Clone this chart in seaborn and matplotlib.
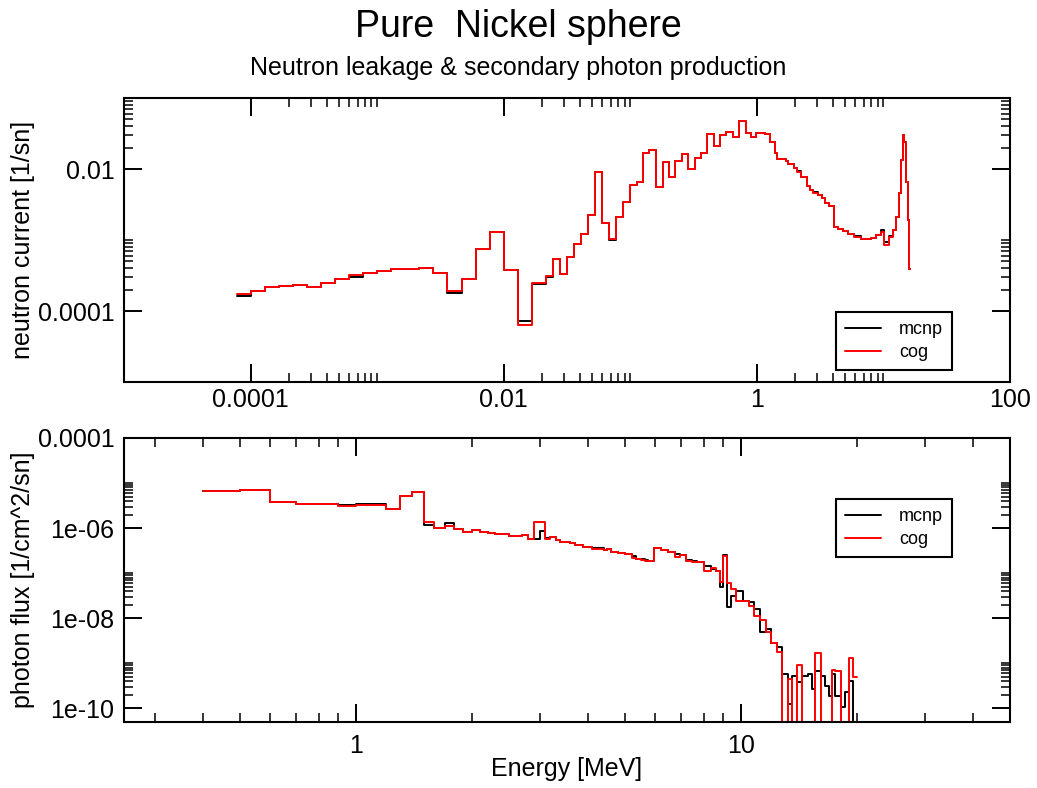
import numpy as np
import pandas as pd
import matplotlib
matplotlib.use("Agg")
import matplotlib.pyplot as plt
import matplotlib.ticker as mticker
import seaborn as sns

# ---------------------------------------------------------------------------
# Neutron leakage current, bin edges in MeV and per-bin values [1/sn]
# ---------------------------------------------------------------------------
neutron_edges = [
    7.74e-5, 1.0e-4, 1.29e-4, 1.67e-4, 2.15e-4, 2.78e-4, 3.59e-4, 4.64e-4,
    6.0e-4, 7.74e-4, 1.0e-3, 1.29e-3, 1.67e-3, 2.15e-3, 2.78e-3, 3.59e-3,
    4.64e-3, 6.0e-3, 7.74e-3, 1.0e-2, 1.29e-2, 1.67e-2, 2.15e-2,
    2.45e-2, 2.78e-2, 3.16e-2, 3.59e-2, 4.08e-2, 4.64e-2, 5.27e-2, 6.0e-2,
    6.81e-2, 7.74e-2, 8.8e-2, 0.1, 0.1136,
    0.1262, 0.1415, 0.1588, 0.1806, 0.2028, 0.2248, 0.2541, 0.2847, 0.3219,
    0.3637, 0.4058, 0.4575, 0.5073, 0.5737, 0.6477, 0.7266, 0.8151, 0.8932,
    0.978, 1.153, 1.280, 1.384, 1.436, 1.692, 1.763, 1.967, 2.093, 2.250,
    2.478, 2.618, 2.781, 3.013, 3.259, 3.443, 3.724, 4.077, 4.337, 4.752,
    5.206, 5.876, 6.637, 7.966, 8.724, 9.556, 10.09, 11.06, 11.83, 12.56,
    13.27, 13.76, 14.19, 14.62, 15.08, 15.56, 15.93, 16.30,
]

neutron_cog = [
    1.71e-4, 1.91e-4, 2.18e-4, 2.25e-4, 2.36e-4, 2.21e-4, 2.51e-4, 2.79e-4,
    3.26e-4, 3.40e-4, 3.63e-4, 3.87e-4, 3.87e-4, 4.00e-4, 3.48e-4, 1.91e-4,
    2.86e-4, 7.59e-4, 1.30e-3, 3.79e-4, 6.41e-5, 2.51e-4,
    3.11e-4, 5.41e-4, 3.36e-4, 5.71e-4, 8.81e-4, 1.22e-3, 2.26e-3, 9.07e-3,
    1.71e-3, 1.04e-3, 2.10e-3, 3.39e-3, 5.89e-3, 6.62e-3,
    1.70e-2, 1.87e-2, 5.52e-3, 1.24e-2, 7.63e-3, 1.31e-2, 1.61e-2, 9.90e-3,
    1.44e-2, 1.70e-2, 3.09e-2, 2.08e-2, 3.02e-2, 3.37e-2, 2.81e-2, 4.81e-2,
    3.26e-2, 2.81e-2, 3.19e-2, 3.09e-2, 2.43e-2, 1.67e-2, 1.38e-2, 1.31e-2,
    1.16e-2, 1.02e-2, 9.16e-3, 7.78e-3, 5.75e-3, 5.05e-3, 4.62e-3, 4.25e-3,
    3.86e-3, 3.34e-3, 3.00e-3, 1.53e-3, 1.42e-3, 1.33e-3, 1.21e-3, 1.11e-3,
    1.05e-3, 1.08e-3, 1.17e-3, 1.30e-3, 8.45e-4, 1.11e-3, 1.37e-3, 2.12e-3,
    4.54e-3, 1.34e-2, 3.02e-2, 2.43e-2, 6.62e-3, 1.91e-3, 3.95e-4,
]

neutron_mcnp = [
    1.62e-4, 1.91e-4, 2.18e-4, 2.25e-4, 2.36e-4, 2.21e-4, 2.51e-4, 2.79e-4,
    3.01e-4, 3.40e-4, 3.63e-4, 3.87e-4, 3.87e-4, 4.00e-4, 3.40e-4, 1.82e-4,
    2.86e-4, 7.59e-4, 1.30e-3, 3.79e-4, 7.20e-5, 2.43e-4,
    3.00e-4, 5.41e-4, 3.36e-4, 5.71e-4, 8.81e-4, 1.22e-3, 2.26e-3, 9.07e-3,
    1.71e-3, 1.00e-3, 2.10e-3, 3.39e-3, 5.89e-3, 6.62e-3,
    1.70e-2, 1.87e-2, 5.52e-3, 1.24e-2, 7.63e-3, 1.31e-2, 1.61e-2, 9.90e-3,
    1.44e-2, 1.70e-2, 3.09e-2, 2.08e-2, 3.02e-2, 3.37e-2, 2.81e-2, 4.81e-2,
    3.26e-2, 2.81e-2, 3.19e-2, 3.09e-2, 2.43e-2, 1.67e-2, 1.38e-2, 1.31e-2,
    1.16e-2, 1.02e-2, 9.40e-3, 7.78e-3, 5.75e-3, 5.05e-3, 4.80e-3, 4.25e-3,
    3.95e-3, 3.34e-3, 3.00e-3, 1.53e-3, 1.45e-3, 1.33e-3, 1.21e-3, 1.13e-3,
    1.05e-3, 1.08e-3, 1.17e-3, 1.38e-3, 9.50e-4, 1.15e-3, 1.37e-3, 2.12e-3,
    4.54e-3, 1.34e-2, 3.02e-2, 2.43e-2, 6.62e-3, 1.91e-3, 3.95e-4,
]

# ---------------------------------------------------------------------------
# Secondary photon flux, bin edges in MeV and per-bin values [1/cm^2/sn]
# ---------------------------------------------------------------------------
photon_edges = [
    0.4, 0.5, 0.6, 0.7, 0.9, 1.0, 1.2, 1.3, 1.4, 1.5,
    1.6, 1.7, 1.8, 1.9, 2.0, 2.1, 2.2, 2.3, 2.4, 2.5,
    2.6, 2.7, 2.8, 2.9, 3.0, 3.1, 3.2, 3.3, 3.4, 3.6,
    3.7, 3.9, 4.1, 4.4, 4.5, 4.6, 4.8, 5.0, 5.2, 5.35,
    5.5, 5.65, 5.75, 5.95, 6.2, 6.45, 6.75, 6.95, 7.2, 7.45,
    7.7, 8.0, 8.35, 8.6, 8.8, 9.0, 9.2, 9.45, 9.7, 10.1,
    10.5, 10.8, 11.2, 11.6, 12.0, 12.4, 12.8, 13.25, 13.6, 14.0,
    14.4, 14.9, 15.3, 15.6, 16.1, 16.5, 16.9, 17.2, 17.6, 18.2,
    18.6, 19.1, 19.6, 20.0,
]

photon_cog = [
    6.64e-6, 7.13e-6, 3.78e-6, 3.37e-6, 3.04e-6, 3.31e-6, 2.61e-6, 5.06e-6,
    6.21e-6, 1.36e-6, 1.02e-6, 1.11e-6, 9.36e-7, 8.15e-7, 8.89e-7, 8.02e-7,
    7.74e-7, 7.51e-7, 7.24e-7, 6.64e-7, 6.70e-7, 6.89e-7, 5.81e-7, 1.36e-6,
    1.36e-6, 5.81e-7, 6.31e-7, 5.52e-7, 4.89e-7, 4.64e-7, 4.13e-7, 3.79e-7,
    3.48e-7, 3.19e-7, 3.36e-7, 2.93e-7, 2.78e-7, 2.60e-7, 2.20e-7, 2.09e-7,
    2.01e-7, 1.91e-7, 1.82e-7, 3.66e-7, 3.19e-7, 2.93e-7, 2.27e-7, 2.47e-7,
    1.85e-7, 1.79e-7, 1.75e-7, 1.11e-7, 1.29e-7, 1.11e-7, 6.31e-8, 2.35e-7,
    6.00e-8, 4.50e-8, 2.47e-8, 2.47e-8, 1.91e-8, 1.15e-8, 9.20e-9, 4.89e-9,
    2.78e-9, 1.75e-9, 0.0, 4.5e-10, 0.0, 9.4e-10, 0.0, 0.0,
    0.0, 1.67e-9, 0.0, 0.0, 0.0, 7.1e-10, 6.9e-10, 0.0,
    0.0, 1.29e-9, 4.9e-10,
]

photon_mcnp = [
    6.80e-6, 7.13e-6, 3.78e-6, 3.45e-6, 3.24e-6, 3.35e-6, 2.70e-6, 5.06e-6,
    6.21e-6, 1.15e-6, 1.02e-6, 1.29e-6, 9.50e-7, 8.15e-7, 9.20e-7, 8.00e-7,
    7.90e-7, 7.51e-7, 7.40e-7, 6.64e-7, 6.80e-7, 6.89e-7, 5.81e-7, 5.81e-7,
    8.58e-7, 6.00e-7, 6.40e-7, 5.52e-7, 4.89e-7, 4.70e-7, 4.13e-7, 3.90e-7,
    3.55e-7, 3.30e-7, 3.36e-7, 3.00e-7, 2.85e-7, 2.60e-7, 2.35e-7, 2.09e-7,
    2.05e-7, 1.95e-7, 1.82e-7, 3.70e-7, 3.25e-7, 2.95e-7, 2.70e-7, 2.50e-7,
    1.95e-7, 1.85e-7, 1.80e-7, 1.48e-7, 1.25e-7, 1.11e-7, 5.06e-8, 2.47e-7,
    1.76e-8, 3.19e-8, 3.98e-8, 2.47e-8, 2.27e-8, 1.62e-8, 4.89e-9, 5.81e-9,
    2.78e-9, 2.35e-9, 5.8e-10, 1.25e-10, 5.3e-10, 3.8e-10, 5.3e-10, 5.8e-10,
    2.7e-10, 6.9e-10, 5.3e-10, 3.2e-10, 1.9e-10, 5.8e-10, 1.9e-10, 1.1e-10,
    2.3e-10, 4.1e-10, 0.0,
]

neutron_xticks = [1e-4, 1e-2, 1, 100]
neutron_xticklabels = ["0.0001", "0.01", "1", "100"]
neutron_yticks = [1e-4, 1e-2]
neutron_yticklabels = ["0.0001", "0.01"]
photon_xticks = [1, 10]
photon_xticklabels = ["1", "10"]
photon_yticks = [1e-10, 1e-8, 1e-6, 1e-4]
photon_yticklabels = ["1e-10", "1e-08", "1e-06", "0.0001"]


def step_frame(edges, values):
    """Histogram as a step line: one point per edge, last value repeated."""
    vals = list(values) + [values[-1]]
    return pd.DataFrame({"energy": edges, "value": vals})


def decade_minors(exponents):
    return [m * 10.0 ** e for e in exponents for m in range(2, 11)]


sns.set_theme(style="ticks")
plt.rcParams["font.family"] = ["Liberation Sans", "DejaVu Sans"]
plt.rcParams.update({
    "axes.edgecolor": "black",
    "axes.linewidth": 1.5,
    "xtick.color": "black",
    "ytick.color": "black",
    "text.color": "black",
    "axes.labelcolor": "black",
})

fig = plt.figure(figsize=(10.37, 7.88), dpi=100)
ax_n = fig.add_axes([0.1196, 0.5152, 0.8544, 0.3604])
ax_p = fig.add_axes([0.1196, 0.0838, 0.8544, 0.3604])

panels = [
    (ax_n, neutron_edges, neutron_mcnp, neutron_cog),
    (ax_p, photon_edges, photon_mcnp, photon_cog),
]
for ax, edges, mcnp, cog in panels:
    sns.lineplot(data=step_frame(edges, mcnp), x="energy", y="value",
                 drawstyle="steps-post", estimator=None, sort=False,
                 color="black", linewidth=1.4, label="mcnp", ax=ax)
    sns.lineplot(data=step_frame(edges, cog), x="energy", y="value",
                 drawstyle="steps-post", estimator=None, sort=False,
                 color="#ff0000", linewidth=1.4, label="cog", ax=ax)
    ax.set_xscale("log")
    ax.set_yscale("log", nonpositive="clip")
    ax.tick_params(which="both", direction="in", top=True, right=True,
                   labelsize=18)
    ax.tick_params(which="major", length=13, width=1.4)
    ax.tick_params(which="minor", length=6.5, width=1.1)
    ax.set_xlabel("")
    ax.set_ylabel("")

# neutron panel axes
ax_n.set_xlim(1e-5, 100)
ax_n.set_ylim(1e-5, 0.1)
ax_n.xaxis.set_major_locator(mticker.FixedLocator(neutron_xticks))
ax_n.xaxis.set_major_formatter(mticker.FixedFormatter(neutron_xticklabels))
ax_n.xaxis.set_minor_locator(mticker.FixedLocator(decade_minors([-4, -2, 0])))
ax_n.xaxis.set_minor_formatter(mticker.NullFormatter())
ax_n.yaxis.set_major_locator(mticker.FixedLocator(neutron_yticks))
ax_n.yaxis.set_major_formatter(mticker.FixedFormatter(neutron_yticklabels))
ax_n.yaxis.set_minor_locator(mticker.FixedLocator(decade_minors([-4, -2])))
ax_n.yaxis.set_minor_formatter(mticker.NullFormatter())
ax_n.tick_params(axis="x", which="major", pad=4)
ax_n.tick_params(axis="y", which="major", pad=7)
ax_n.set_ylabel("neutron current [1/sn]", fontsize=18)
ax_n.yaxis.set_label_coords(-0.1, 0.5)

# photon panel axes
ax_p.set_xlim(0.25, 50)
ax_p.set_ylim(5e-11, 1e-4)
ax_p.xaxis.set_major_locator(mticker.FixedLocator(photon_xticks))
ax_p.xaxis.set_major_formatter(mticker.FixedFormatter(photon_xticklabels))
ax_p.xaxis.set_minor_locator(mticker.LogLocator(base=10, subs=np.arange(2, 10)))
ax_p.xaxis.set_minor_formatter(mticker.NullFormatter())
ax_p.yaxis.set_major_locator(mticker.FixedLocator(photon_yticks))
ax_p.yaxis.set_major_formatter(mticker.FixedFormatter(photon_yticklabels))
ax_p.yaxis.set_minor_locator(mticker.FixedLocator(decade_minors([-10, -8, -6])))
ax_p.yaxis.set_minor_formatter(mticker.NullFormatter())
ax_p.tick_params(axis="x", which="major", pad=9)
ax_p.tick_params(axis="y", which="major", pad=7)
ax_p.set_ylabel("photon flux [1/cm^2/sn]", fontsize=18)
ax_p.yaxis.set_label_coords(-0.1, 0.5)
ax_p.set_xlabel("Energy [MeV]", fontsize=18)
ax_p.xaxis.set_label_coords(0.5, -0.125)

# legends
for ax, anchor in [(ax_n, (0.8036, 0.2465)), (ax_p, (0.8036, 0.785))]:
    handles, labels = ax.get_legend_handles_labels()
    leg = ax.legend(handles, labels, loc="upper left", bbox_to_anchor=anchor,
                    borderaxespad=0, frameon=True, fancybox=False,
                    edgecolor="black", framealpha=1, fontsize=13,
                    handlelength=2.0, handletextpad=1.0, borderpad=0.5,
                    labelspacing=0.35)
    leg.get_frame().set_linewidth(1.5)

fig.text(0.5, 1 - 27 / 788, "Pure  Nickel sphere", ha="center", va="center",
         fontsize=27)
fig.text(0.5, 1 - 68 / 788, "Neutron leakage & secondary photon production",
         ha="center", va="center", fontsize=18)

fig.savefig("out.png", dpi=100)
